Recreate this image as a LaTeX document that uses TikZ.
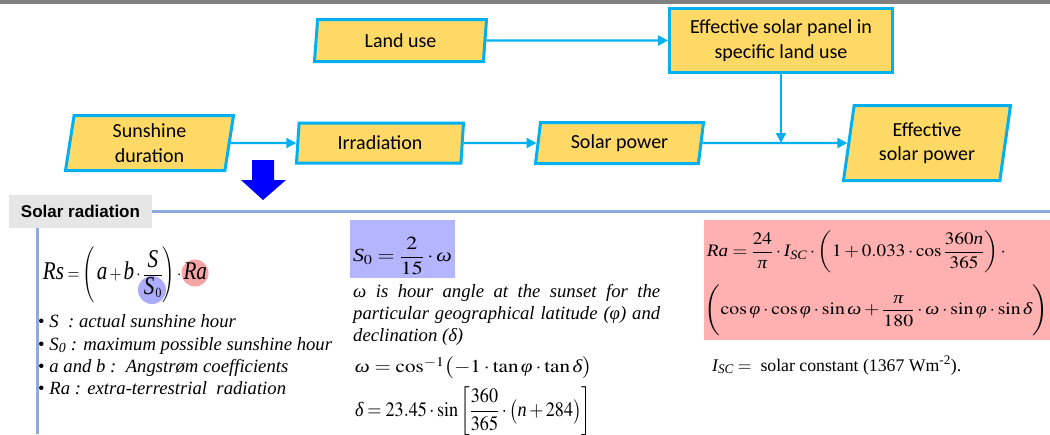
\documentclass[tikz,border=0pt]{standalone}
\usepackage{amsmath}
\usepackage{mathptmx}
\usepackage{fontspec}
\setmainfont{Liberation Serif}
\newfontfamily\calfont{Carlito}
\newfontfamily\arialfont{Liberation Sans}
\usepackage{graphicx}
\usetikzlibrary{shapes.geometric,arrows.meta}
\newcommand{\vi}[1]{\textit{#1}}
\newcommand{\bvi}[1]{\text{\fontsize{26}{26}\selectfont\itshape #1}}
\definecolor{cyanb}{RGB}{0,176,240}
\definecolor{yel}{RGB}{255,217,102}
\definecolor{lineblue}{RGB}{143,170,220}
\definecolor{hdrgray}{RGB}{230,230,230}
\definecolor{topgray}{RGB}{128,128,128}
\definecolor{sbox}{RGB}{180,180,255}
\definecolor{rbox}{RGB}{255,176,176}
\definecolor{rcirc}{RGB}{245,165,165}
\definecolor{bcirc}{RGB}{172,172,250}
\definecolor{bluearrow}{RGB}{0,0,255}
\begin{document}
\begin{tikzpicture}[x=1pt,y=-1pt,
  para/.style={trapezium, trapezium stretches body, draw=cyanb, line width=3pt, fill=yel,
    font=\calfont\fontsize{20}{24.5}\selectfont, align=center, inner sep=0pt, text=black},
  pbox/.style={rectangle, draw=cyanb, line width=3pt, fill=yel,
    font=\calfont\fontsize{20}{24.5}\selectfont, align=center, inner sep=0pt, text=black},
  arr/.style={draw=cyanb, line width=2.2pt, -{Triangle[length=10pt,width=10pt]}},
  sepline/.style={draw=lineblue, line width=3pt},
  blt/.style={anchor=base west, inner sep=0pt, font=\fontsize{18.7}{22}\selectfont\itshape},
  eq/.style={anchor=center, inner sep=0pt, font=\fontsize{19}{23}\selectfont}
]
\useasboundingbox (0,0) rectangle (1050,434);
\fill[white] (0,0) rectangle (1050,434);
\fill[topgray] (0,0) rectangle (1050,4);

% flow chart
\node[para, trapezium left angle=77.5, trapezium right angle=102.5, minimum width=172, minimum height=42] (land) at (400.5,40.5) {Land use};
\node[pbox, minimum width=223, minimum height=64] (pan) at (781,40.5) {Effective solar panel in\\specific land use};
\node[para, trapezium left angle=77.4, trapezium right angle=102.6, minimum width=168, minimum height=55] (sun) at (149.5,143) {Sunshine\\duration};
\node[para, trapezium left angle=79.5, trapezium right angle=100.5, minimum width=167, minimum height=40] (irr) at (380,143) {Irradiation};
\node[para, trapezium left angle=73.5, trapezium right angle=106.5, minimum width=168, minimum height=41] (sp) at (619.5,143) {Solar power};
\node[para, trapezium left angle=75.6, trapezium right angle=104.4, minimum width=167, minimum height=75] (esp) at (927,143) {Effective\\solar power};

\draw[arr] (land) -- (pan);
\draw[arr] (sun) -- (irr);
\draw[arr] (irr) -- (sp);
\draw[arr] (sp) -- (esp);
\coordinate (j) at (pan.south |- sp.center);
\draw[arr] (pan) -- (j);

% big blue arrow
\fill[bluearrow] (252,160) -- (274,160) -- (274,180) -- (286,180) -- (263,200) -- (241,180) -- (252,180) -- cycle;

% section header
\node[fill=hdrgray, minimum width=143, minimum height=33, inner sep=0pt,
  font=\arialfont\bfseries\fontsize{17}{20}\selectfont] (hdr) at (80.5,211.5) {Solar radiation};
\coordinate (hr) at (1050,211);
\draw[sepline] (hdr.east |- hr) -- (hr);
\coordinate (vt) at (37,228);
\coordinate (vb) at (37,434);
\draw[sepline] (vt) -- (vb);

% left column
\fill[bcirc] (152,290) circle (14pt);
\fill[rcirc] (195,273) circle (13.5pt);
\node[eq] (rs) at (125,275) {\resizebox*{164pt}{56pt}{$\bvi{Rs}=\Biggl(\,\bvi{a}+\bvi{b}\cdot\dfrac{\bvi{S}}{\bvi{S}_{\,0}}\Biggr)\cdot\bvi{Ra}$}};
\node[blt] (b1) at (38,327) {\textup{\textbullet} S\ \ : actual sunshine hour};
\node[blt] (b2) at (38,350) {\textup{\textbullet} S\textsubscript{0} : maximum possible sunshine hour};
\node[blt] (b3) at (38,372) {\textup{\textbullet} a and b :\ \ Angstr\o m coefficients};
\node[blt] (b4) at (38,394) {\textup{\textbullet} Ra : extra-terrestrial\ \ radiation};

% middle column
\fill[sbox] (350,220) rectangle (455,278);
\node[eq] (s0) at (402.5,256) {\resizebox*{99pt}{38pt}{$\vi{S}_0=\dfrac{2}{15}\cdot\vi{ω}$}};
\node[blt] (p1) at (353,297) {\makebox[307pt][s]{ω is hour angle at the sunset for the}};
\node[blt] (p2) at (353,319) {\makebox[307pt][s]{particular geographical latitude (φ) and}};
\node[blt] (p3) at (353,341) {declination (δ)};
\node[eq] (om) at (473.5,368) {\resizebox*{237pt}{22pt}{$\vi{ω}=\cos^{-1}\bigl(-1\cdot\tan\vi{φ}\cdot\tan\vi{δ}\bigr)$}};
\node[eq] (de) at (473,411.5) {\resizebox*{236pt}{49pt}{$\vi{δ}=23.45\cdot\sin\left[\dfrac{360}{365}\cdot\bigl(\vi{n}+284\bigr)\right]$}};

% right column
\fill[rbox] (704,220) rectangle (1050,340);
\node[eq] (ra1) at (856.5,252) {\resizebox*{299pt}{42pt}{$\vi{Ra}=\dfrac{24}{\vi{π}}\cdot \vi{I}_{\vi{SC}}\cdot\left(1+0.033\cdot\cos\dfrac{360\vi{n}}{365}\right)\cdot$}};
\node[eq] (ra2) at (876.5,310.5) {\resizebox*{343pt}{51pt}{$\Biggl(\cos\vi{φ}\cdot\cos\vi{φ}\cdot\sin\vi{ω}+\dfrac{\vi{π}}{180}\cdot\vi{ω}\cdot\sin\vi{φ}\cdot\sin\vi{δ}\Biggr)$}};
\node[anchor=base west, inner sep=0pt, font=\fontsize{19}{23}\selectfont] (isc) at (712,371) {\resizebox{249pt}{!}{$\vi{I}_{\vi{SC}}=$\ \ solar constant (1367~Wm\textsuperscript{-2}).}};
\end{tikzpicture}
\end{document}
